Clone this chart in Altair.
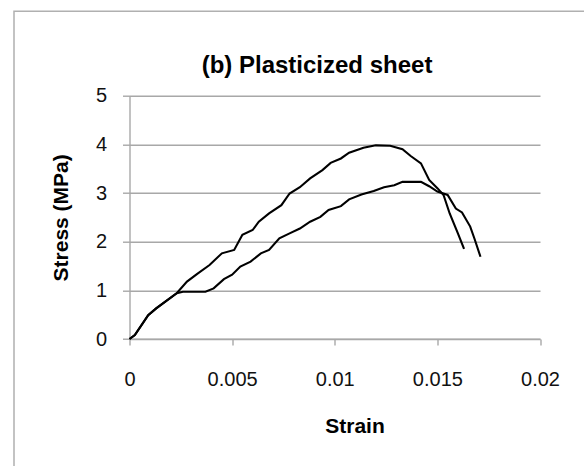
import altair as alt
import pandas as pd

# Sample A (higher peak)
strain_a = [0, 0.00026, 0.00091, 0.0013, 0.0023, 0.0028, 0.0033, 0.0039, 0.0045, 0.0051,
            0.0055, 0.0060, 0.0063, 0.0068, 0.0074, 0.0078, 0.0083, 0.0088, 0.0094, 0.0098,
            0.0103, 0.0107, 0.0114, 0.0120, 0.0127, 0.0133, 0.0137, 0.0142, 0.0146, 0.0150,
            0.0153, 0.0156, 0.0160, 0.0163]
stress_a = [0, 0.08, 0.49, 0.63, 0.94, 1.18, 1.34, 1.52, 1.76, 1.83,
            2.14, 2.24, 2.41, 2.58, 2.75, 2.99, 3.12, 3.30, 3.47, 3.62,
            3.71, 3.83, 3.93, 3.98, 3.97, 3.90, 3.76, 3.61, 3.27, 3.10,
            2.96, 2.58, 2.17, 1.85]

# Sample B (lower peak)
strain_b = [0, 0.00026, 0.00091, 0.0013, 0.0023, 0.0026, 0.0031, 0.0037, 0.0041, 0.0046,
            0.0050, 0.0054, 0.0059, 0.0064, 0.0068, 0.0073, 0.0078, 0.0083, 0.0088, 0.0093,
            0.0097, 0.0103, 0.0107, 0.0113, 0.0119, 0.0124, 0.0129, 0.0133, 0.0142, 0.0146,
            0.0150, 0.0155, 0.0159, 0.0162, 0.0166, 0.0168, 0.0171]
stress_b = [0, 0.08, 0.49, 0.63, 0.94, 0.97, 0.97, 0.97, 1.04, 1.23,
            1.32, 1.49, 1.59, 1.76, 1.83, 2.07, 2.17, 2.27, 2.41, 2.51,
            2.65, 2.73, 2.87, 2.97, 3.04, 3.12, 3.16, 3.23, 3.23, 3.14,
            3.03, 2.96, 2.68, 2.60, 2.31, 2.07, 1.69]

x_ticks = [0, 0.005, 0.01, 0.015, 0.02]
y_ticks = [0, 1, 2, 3, 4, 5]
chart_title = "(b) Plasticized sheet"

rows = []
for i, (x, y) in enumerate(zip(strain_a, stress_a)):
    rows.append({"sample": "A", "i": i, "strain": x, "stress": y})
for i, (x, y) in enumerate(zip(strain_b, stress_b)):
    rows.append({"sample": "B", "i": i, "strain": x, "stress": y})
df = pd.DataFrame(rows)

FONT = "Liberation Sans"
GRID = "#a8a8a8"

lines = alt.Chart(df).mark_line(color="black", strokeWidth=2.1).encode(
    x=alt.X("strain:Q",
            scale=alt.Scale(domain=[0, 0.02], nice=False, zero=False),
            axis=alt.Axis(values=x_ticks, format="~g", title="Strain", grid=False,
                          tickSize=6, labelPadding=24, titlePadding=26,
                          labelFlush=False, titleX=225)),
    y=alt.Y("stress:Q",
            scale=alt.Scale(domain=[0, 5], nice=False),
            axis=alt.Axis(values=y_ticks, title="Stress (MPa)", grid=True,
                          tickSize=7, labelPadding=16, titlePadding=24,
                          labelFlush=False)),
    detail="sample:N",
    order="i:Q",
)

one = pd.DataFrame({"t": [chart_title]})
frame = alt.Chart(one).mark_rect(fill=None, stroke="#b0b0b0", strokeWidth=1.5).encode(
    x=alt.value(-115.5), x2=alt.value(700),
    y=alt.value(-84.5), y2=alt.value(600),
)

title = alt.Chart(one).mark_text(font=FONT, fontSize=24, fontWeight="bold",
                                 color="black", align="center",
                                 baseline="alphabetic").encode(
    text="t:N", x=alt.value(187.5), y=alt.value(-23.2),
)

chart = alt.layer(frame, lines, title).properties(
    width=410.5,
    height=243.3,
    background="white",
    autosize=alt.AutoSizeParams(type="none"),
    padding={"left": 129.5, "top": 95.7, "right": 44, "bottom": 127},
).configure_view(stroke=None).configure_axis(
    labelFont=FONT, labelFontSize=20, labelColor="#111111",
    titleFont=FONT, titleFontSize=21, titleFontWeight="bold", titleColor="black",
    domainColor=GRID, domainWidth=1.4, tickColor=GRID, tickWidth=1.4,
    gridColor=GRID, gridWidth=1.4,
)

chart.save("out.html", embed_options={"renderer": "svg", "actions": False})
